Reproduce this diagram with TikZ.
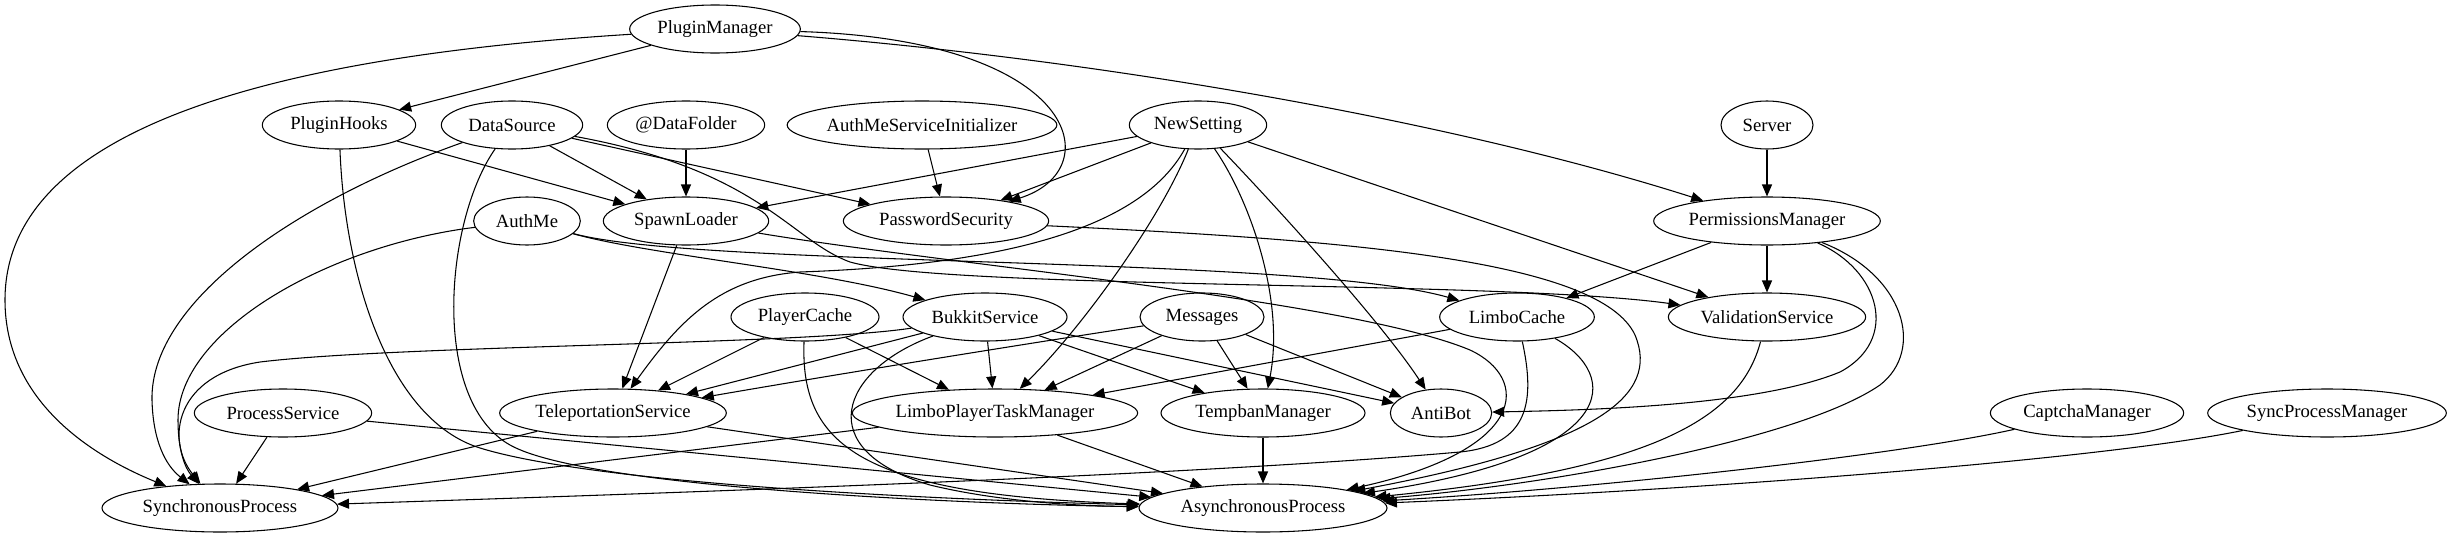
\documentclass[tikz,border=0pt]{standalone}
\usepackage{fontspec}
\setmainfont{Liberation Serif}
\usetikzlibrary{arrows.meta, shapes.geometric}

\tikzset{
	svc/.style={draw, ellipse, line width=0.8pt, inner sep=0pt, minimum height=36pt, font=\fontsize{14pt}{16pt}\selectfont},
	dep/.style={line width=0.8pt, -{Triangle[length=9pt,width=7.5pt]}}
}

\begin{document}
\begin{tikzpicture}[x=0.75pt, y=-0.75pt]
	\useasboundingbox (0,0) rectangle (2452,539);
	% rank 0 and 1
	\node[svc, minimum width=128pt] (pluginManager) at (715,29) {PluginManager};
	\node[svc, minimum width=115pt] (pluginHooks) at (339,125) {PluginHooks};
	\node[svc, minimum width=106pt] (dataSource) at (512,125) {DataSource};
	\node[svc, minimum width=118pt] (dataFolder) at (686,125) {@DataFolder};
	\node[svc, minimum width=196pt] (serviceInit) at (922,125) {AuthMeServiceInitializer};
	\node[svc, minimum width=103pt] (newSetting) at (1198,125) {NewSetting};
	\node[svc, minimum width=69pt] (server) at (1767,125) {Server};
	% rank 2
	\node[svc, minimum width=80pt] (authMe) at (527,221) {AuthMe};
	\node[svc, minimum width=124pt] (spawnLoader) at (686,221) {SpawnLoader};
	\node[svc, minimum width=154pt] (passwordSecurity) at (946,221) {PasswordSecurity};
	\node[svc, minimum width=170pt] (permissionsManager) at (1767,221) {PermissionsManager};
	% rank 3
	\node[svc, minimum width=111pt] (playerCache) at (805,317) {PlayerCache};
	\node[svc, minimum width=123pt] (bukkitService) at (985,317) {BukkitService};
	\node[svc, minimum width=93pt] (messages) at (1202,317) {Messages};
	\node[svc, minimum width=116pt] (limboCache) at (1517,317) {LimboCache};
	\node[svc, minimum width=148pt] (validationService) at (1767,317) {ValidationService};
	% rank 4
	\node[svc, minimum width=133pt] (processService) at (283,413) {ProcessService};
	\node[svc, minimum width=170pt] (teleportationService) at (613,413) {TeleportationService};
	\node[svc, minimum width=214pt] (limboTaskManager) at (995,413) {LimboPlayerTaskManager};
	\node[svc, minimum width=153pt] (tempbanManager) at (1263,413) {TempbanManager};
	\node[svc, minimum width=76pt] (antiBot) at (1441,413) {AntiBot};
	\node[svc, minimum width=145pt] (captchaManager) at (2087,413) {CaptchaManager};
	\node[svc, minimum width=179pt] (syncProcessManager) at (2327,413) {SyncProcessManager};
	% rank 5
	\node[svc, minimum width=177pt] (syncProcess) at (220,508) {SynchronousProcess};
	\node[svc, minimum width=186pt] (asyncProcess) at (1263,508) {AsynchronousProcess};

	% PluginManager
	\draw[dep] (pluginManager) .. controls (300,55) and (5,120) .. (5,300) .. controls (5,400) and (90,455) .. (syncProcess);
	\draw[dep] (pluginManager) -- (pluginHooks);
	\draw[dep] (pluginManager) .. controls (1080,40) and (1110,170) .. (passwordSecurity);
	\draw[dep] (pluginManager) .. controls (1100,60) and (1450,120) .. (permissionsManager);
	% PluginHooks, DataSource
	\draw[dep] (pluginHooks) -- (spawnLoader);
	\draw[dep] (pluginHooks) .. controls (345,280) and (390,420) .. (480,448) .. controls (600,485) and (950,500) .. (asyncProcess);
	\draw[dep] (dataSource) -- (spawnLoader);
	\draw[dep] (dataSource) -- (passwordSecurity);
	\draw[dep] (dataSource) .. controls (300,200) and (150,300) .. (152,400) .. controls (153,440) and (165,465) .. (syncProcess);
	\draw[dep] (dataSource) .. controls (445,220) and (430,400) .. (510,445) .. controls (590,490) and (1000,505) .. (asyncProcess);
	\draw[dep] (dataSource) .. controls (760,170) and (790,240) .. (850,262) .. controls (950,290) and (1500,280) .. (validationService);
	\draw[dep] (dataFolder) -- (spawnLoader);
	\draw[dep] (serviceInit) -- (passwordSecurity);
	% NewSetting
	\draw[dep] (newSetting) -- (spawnLoader);
	\draw[dep] (newSetting) -- (passwordSecurity);
	\draw[dep] (newSetting) .. controls (1140,230) and (1000,265) .. (800,272) .. controls (720,278) and (680,320) .. (teleportationService);
	\draw[dep] (newSetting) .. controls (1160,220) and (1080,330) .. (limboTaskManager);
	\draw[dep] (newSetting) .. controls (1250,200) and (1285,300) .. (tempbanManager);
	\draw[dep] (newSetting) .. controls (1270,200) and (1380,320) .. (antiBot);
	\draw[dep] (newSetting) -- (validationService);
	% Server, PermissionsManager
	\draw[dep] (server) -- (permissionsManager);
	\draw[dep] (permissionsManager) -- (limboCache);
	\draw[dep] (permissionsManager) -- (validationService);
	\draw[dep] (permissionsManager) .. controls (1880,270) and (1900,340) .. (1840,372) .. controls (1760,405) and (1600,410) .. (antiBot);
	\draw[dep] (permissionsManager) .. controls (1905,275) and (1925,350) .. (1880,385) .. controls (1800,440) and (1550,485) .. (asyncProcess);
	% AuthMe, SpawnLoader, PasswordSecurity
	\draw[dep] (authMe) .. controls (330,245) and (178,330) .. (178,420) .. controls (178,450) and (185,468) .. (syncProcess);
	\draw[dep] (authMe) .. controls (650,255) and (820,270) .. (bukkitService);
	\draw[dep] (authMe) .. controls (700,268) and (1300,255) .. (limboCache);
	\draw[dep] (spawnLoader) -- (teleportationService);
	\draw[dep] (spawnLoader) .. controls (950,265) and (1350,300) .. (1470,350) .. controls (1530,378) and (1530,450) .. (asyncProcess);
	\draw[dep] (passwordSecurity) .. controls (1350,240) and (1600,260) .. (1635,335) .. controls (1660,395) and (1600,445) .. (asyncProcess);
	% PlayerCache, BukkitService, Messages
	\draw[dep] (playerCache) -- (teleportationService);
	\draw[dep] (playerCache) -- (limboTaskManager);
	\draw[dep] (playerCache) .. controls (800,445) and (860,495) .. (asyncProcess);
	\draw[dep] (bukkitService) .. controls (800,345) and (400,345) .. (260,362) .. controls (175,375) and (165,440) .. (syncProcess);
	\draw[dep] (bukkitService) -- (teleportationService);
	\draw[dep] (bukkitService) -- (limboTaskManager);
	\draw[dep] (bukkitService) .. controls (840,370) and (810,450) .. (930,485) .. controls (1000,502) and (1080,506) .. (asyncProcess);
	\draw[dep] (bukkitService) -- (tempbanManager);
	\draw[dep] (bukkitService) -- (antiBot);
	\draw[dep] (messages) .. controls (1050,340) and (850,372) .. (teleportationService);
	\draw[dep] (messages) -- (limboTaskManager);
	\draw[dep] (messages) -- (tempbanManager);
	\draw[dep] (messages) -- (antiBot);
	% LimboCache, ValidationService
	\draw[dep] (limboCache) -- (limboTaskManager);
	\draw[dep] (limboCache) .. controls (1535,400) and (1530,445) .. (1460,452) .. controls (1200,475) and (700,492) .. (syncProcess);
	\draw[dep] (limboCache) .. controls (1620,375) and (1625,455) .. (asyncProcess);
	\draw[dep] (validationService) .. controls (1740,420) and (1650,470) .. (asyncProcess);
	% rank 4 to the processes
	\draw[dep] (processService) -- (syncProcess);
	\draw[dep] (processService) -- (asyncProcess);
	\draw[dep] (teleportationService) -- (syncProcess);
	\draw[dep] (teleportationService) -- (asyncProcess);
	\draw[dep] (limboTaskManager) -- (syncProcess);
	\draw[dep] (limboTaskManager) -- (asyncProcess);
	\draw[dep] (tempbanManager) -- (asyncProcess);
	\draw[dep] (captchaManager) .. controls (1900,455) and (1600,488) .. (asyncProcess);
	\draw[dep] (syncProcessManager) .. controls (2100,460) and (1700,490) .. (asyncProcess);
\end{tikzpicture}
\end{document}
